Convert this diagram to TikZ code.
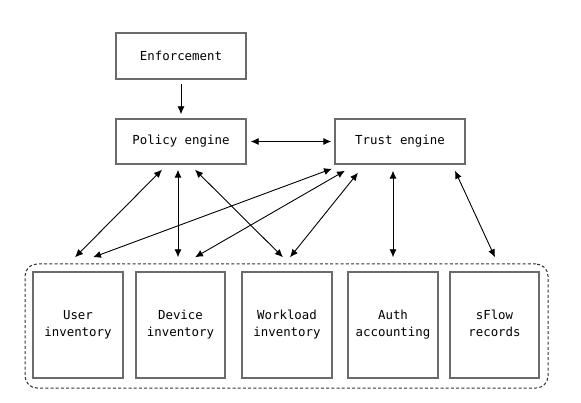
\documentclass[tikz,border=0pt]{standalone}
\usepackage{fontspec}
\setmonofont{DejaVu Sans Mono}
\usetikzlibrary{arrows.meta}
\begin{document}
\begin{tikzpicture}[x=1pt,y=-1pt,
  box/.style={draw=black!58,line width=1.4pt,fill=white,inner sep=0pt,
    font=\fontsize{12.4}{17}\selectfont\ttfamily,align=center},
  conn/.style={draw=black,line width=0.9pt,{Latex[length=8pt,width=7pt]}-{Latex[length=8pt,width=7pt]}},
  oneway/.style={draw=black,line width=0.9pt,-{Latex[length=8pt,width=7pt]}},
  grp/.style={draw=black!80,line width=1pt,dash pattern=on 3pt off 2.2pt,rounded corners=12pt}]
\useasboundingbox (0,0) rectangle (581,403);
\node[grp,minimum width=523pt,minimum height=124pt] (group) at (286.5,326) {};
\node[box,minimum width=130pt,minimum height=46pt] (enf) at (181,56) {Enforcement};
\node[box,minimum width=130pt,minimum height=45pt] (pol) at (181,141.5) {Policy engine};
\node[box,minimum width=130pt,minimum height=45pt] (tru) at (400,141.5) {Trust engine};
\node[box,minimum width=90pt,minimum height=106pt] (user) at (78,325) {User\strut\\inventory\strut};
\node[box,minimum width=89pt,minimum height=106pt] (dev) at (180.5,325) {Device\strut\\inventory\strut};
\node[box,minimum width=90pt,minimum height=106pt] (work) at (287,325) {Workload\strut\\inventory\strut};
\node[box,minimum width=90pt,minimum height=106pt] (auth) at (393,325) {Auth\strut\\accounting\strut};
\node[box,minimum width=89pt,minimum height=106pt] (sflow) at (494.5,325) {sFlow\strut\\records\strut};
\draw[oneway] ([yshift=-4pt]enf.south) -- ([yshift=4pt]pol.north);
\draw[conn] ([xshift=4pt]pol.east) -- ([xshift=-3pt]tru.west);
\draw[conn] ([xshift=-19pt,yshift=-5pt]pol.south) -- ([xshift=-3pt,yshift=14pt]user.north);
\draw[conn] ([xshift=-3pt,yshift=-5pt]pol.south) -- ([xshift=-2.5pt,yshift=14pt]dev.north);
\draw[conn] ([xshift=14pt,yshift=-5pt]pol.south) -- ([xshift=-4pt,yshift=14pt]work.north);
\draw[conn] ([xshift=-68pt,yshift=-4pt]tru.south) -- ([xshift=15pt,yshift=14pt]user.north);
\draw[conn] ([xshift=-55pt,yshift=-6pt]tru.south) -- ([xshift=14.5pt,yshift=14pt]dev.north);
\draw[conn] ([xshift=-42pt,yshift=-8pt]tru.south) -- ([xshift=3pt,yshift=14pt]work.north);
\draw[conn] ([xshift=-7pt,yshift=-6pt]tru.south) -- ([yshift=14pt]auth.north);
\draw[conn] ([xshift=55pt,yshift=-6pt]tru.south) -- ([xshift=0.5pt,yshift=14pt]sflow.north);
\end{tikzpicture}
\end{document}
